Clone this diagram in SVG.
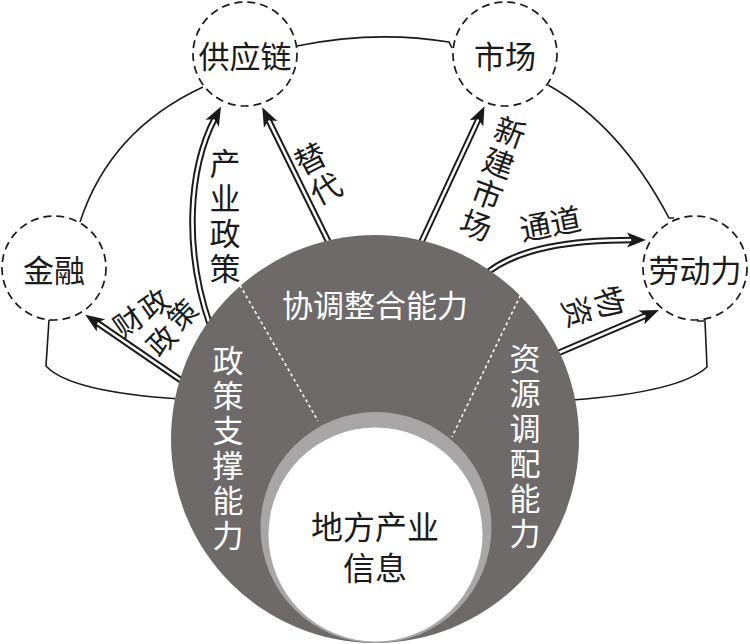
<svg xmlns="http://www.w3.org/2000/svg" width="750" height="644" viewBox="0 0 750 644">
<defs>
<marker id="ah" viewBox="-8 -8 22 16" refX="0" refY="0" markerWidth="22" markerHeight="16" markerUnits="userSpaceOnUse" orient="auto">
<path d="M13,0 L-6,-7.5 L-1.5,0 L-6,7.5 Z" fill="#1a1a1a"/>
</marker>
</defs>
<style>
text{font-family:"Noto Sans CJK SC","Noto Sans CJK TC",sans-serif;font-size:31px;text-anchor:middle;dominant-baseline:central}
.v{writing-mode:vertical-rl;letter-spacing:4px}
.blk{fill:#1a1a1a}
.wht{fill:#ffffff}
.thin{fill:none;stroke:#1a1a1a;stroke-width:1.6}
.arO{fill:none;stroke:#1a1a1a;stroke-width:6.5}
.arI{fill:none;stroke:#ffffff;stroke-width:2.6;marker-end:url(#ah)}
.dash{fill:#ffffff;stroke:#1a1a1a;stroke-width:1.7;stroke-dasharray:8 5}
.dot{stroke:#ffffff;stroke-width:1.6;stroke-dasharray:3 3}
</style>
<rect width="750" height="644" fill="#ffffff"/>
<g id="connectors">
<path class="thin" d="M297,46 Q375,30 449,42 L452,48"/>
<path class="thin" d="M203,87 Q110,130 80,222"/>
<path class="thin" d="M548,85 Q620,125 669,218 L674,218"/>
<path class="thin" d="M58,319 L49,320 L46,366 Q70,392 180,399"/>
<path class="thin" d="M697,321 L705,321 L707,367 Q680,392 572,400"/>
<path class="arO" d="M210,325 C184,250 188,170 215,118"/>
<path class="arI" d="M210,325 C184,250 188,170 215,118"/>
<path class="arO" d="M330,245 L268,119"/>
<path class="arI" d="M330,245 L268,119"/>
<path class="arO" d="M420,245 L479,118"/>
<path class="arI" d="M420,245 L479,118"/>
<path class="arO" d="M488,272 C520,248 570,240 633,240"/>
<path class="arI" d="M488,272 C520,248 570,240 633,240"/>
<path class="arO" d="M556,354 L647,315"/>
<path class="arI" d="M556,354 L647,315"/>
<path class="arO" d="M182,381 L96,322"/>
<path class="arI" d="M182,381 L96,322"/>
</g>
<g id="node-center">
<circle cx="375" cy="439" r="204" fill="#6e6a6a"/>
<line class="dot" x1="237" y1="280" x2="318" y2="421"/>
<line class="dot" x1="523" y1="290" x2="452" y2="437"/>
<circle cx="376" cy="527.5" r="115.5" fill="#a8a6a6"/>
<circle cx="375.5" cy="534.5" r="107" fill="#ffffff"/>
<text class="wht" x="375" y="303">协调整合能力</text>
<text class="wht v" x="228" y="449.5">政策支撑能力</text>
<text class="wht v" x="525" y="447.5">资源调配能力</text>
<text class="blk" x="375" y="525" style="font-size:32px">地方产业</text>
<text class="blk" x="375" y="566" style="font-size:32px">信息</text>
</g>
<g id="node-gongyinglian">
<circle class="dash" cx="245" cy="54" r="52"/>
<text class="blk" x="245" y="54">供应链</text>
</g>
<g id="node-shichang">
<circle class="dash" cx="505" cy="54" r="52"/>
<text class="blk" x="505" y="54">市场</text>
</g>
<g id="node-jinrong">
<circle class="dash" cx="54" cy="268" r="52"/>
<text class="blk" x="54" y="268">金融</text>
</g>
<g id="node-laodongli">
<circle class="dash" cx="695" cy="268" r="52"/>
<text class="blk" x="695" y="268">劳动力</text>
</g>
<g id="labels" class="blk">
<text class="v" x="225" y="217.5">产业政策</text>
<g transform="translate(310,158) rotate(-27)"><text class="v" x="0" y="19" style="letter-spacing:3px">替代</text></g>
<g transform="translate(510,132) rotate(20)"><text class="v" x="0" y="50.5" style="letter-spacing:2px">新建市场</text></g>
<text transform="translate(550,222) rotate(-11)" x="0" y="0">通道</text>
<g transform="translate(610,302) rotate(73)"><text class="v" x="0" y="18.5" style="letter-spacing:3px">物资</text></g>
<text transform="translate(127,320) rotate(-35)" style="font-size:29px">财</text>
<text transform="translate(153,302) rotate(-35)" style="font-size:29px">政</text>
<text transform="translate(160,339) rotate(-45)" style="font-size:29px">政</text>
<text transform="translate(181,313) rotate(-45)" style="font-size:29px">策</text>
</g>
</svg>
